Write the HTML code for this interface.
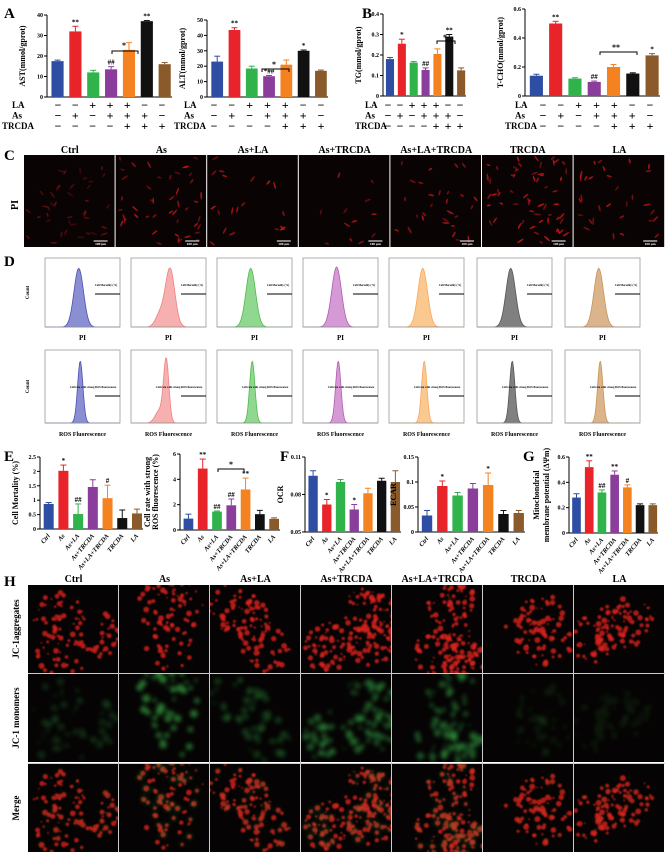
<!DOCTYPE html>
<html><head><meta charset="utf-8"><style>
html,body{margin:0;padding:0;background:#fff;width:670px;height:864px;overflow:hidden}
svg{display:block;font-family:"Liberation Serif",serif}
</style></head><body>
<svg id="s" width="670" height="864" viewBox="0 0 670 864" xmlns="http://www.w3.org/2000/svg">
<defs>
<filter id="bl" x="-20%" y="-20%" width="140%" height="140%"><feGaussianBlur stdDeviation="0.8"/></filter>
<filter id="bl2" x="-50%" y="-50%" width="200%" height="200%"><feGaussianBlur stdDeviation="2"/></filter>
</defs>
</svg>
<script>
const S=document.getElementById('s');let out='';
const C=['#2e4ea3','#e8242a','#2fb34a','#8a3d9b','#f58220','#111111','#8b5a2b'];
let seed=7;function r(){seed=(seed*16807)%2147483647;return seed/2147483647;}
function T(x,y,t,sz,o){o=o||'';out+=`<text x="${x}" y="${y}" font-size="${sz}" font-weight="bold" ${o}>${t}</text>`;}
function chart(ax,top,bot,right,max,min,vals,errs,ticks,ylab,stars,lx){
 const h=bot-top,n=7,step=(right-ax)/n,bw=step*0.68;
 out+=`<line x1="${ax}" y1="${top}" x2="${ax}" y2="${bot}" stroke="#000" stroke-width="1"/><line x1="${ax}" y1="${bot}" x2="${right}" y2="${bot}" stroke="#000"/>`;
 ticks.forEach(t=>{const y=bot-(t-min)/(max-min)*h;out+=`<line x1="${ax-3}" y1="${y}" x2="${ax}" y2="${y}" stroke="#000"/>`;T(ax-4,y+2,t,6,'text-anchor="end"');});
 vals.forEach((v,i)=>{const x=ax+step*(i+0.25),y=bot-(v-min)/(max-min)*h,e=errs[i]/(max-min)*h;
  out+=`<rect x="${x}" y="${y}" width="${bw}" height="${bot-y}" fill="${C[i]}"/>`;
  out+=`<line x1="${x+bw/2}" y1="${y}" x2="${x+bw/2}" y2="${y-e}" stroke="${C[i]}"/><line x1="${x+bw/2-3}" y1="${y-e}" x2="${x+bw/2+3}" y2="${y-e}" stroke="${C[i]}"/>`;
  if(stars&&stars[i])T(x+bw/2,y-e-2,stars[i],7,'text-anchor="middle"');});
 const cy=(top+bot)/2,X=lx||ax-22;T(X,cy,ylab,8,`text-anchor="middle" transform="rotate(-90 ${X} ${cy})"`);
}
function signs(lx,s0,s1,y0,rows){const step=(s1-s0)/6;
 const lab=['LA','As','TRCDA'];rows.forEach((row,j)=>{const y=y0+j*10.5;T(j==2?lx-10:lx,y,lab[j],9);
 row.split('').forEach((c,i)=>{const x=s0+step*i;T(x,y+1,c=='+'?'+':'−',12,'text-anchor="middle" font-weight="normal"');});});}
function xlabels(ax,right,y){const step=(right-ax)/7;['Ctrl','As','As+LA','As+TRCDA','As+LA+TRCDA','TRCDA','LA'].forEach((t,i)=>{const x=ax+step*(i+0.5)+3;T(x,y,t,6.5,`text-anchor="end" font-style="italic" transform="rotate(-50 ${x} ${y})"`);});}
const R3=['--+++--','-+-+++-','----+++'];
T(4,18,'A',15);T(362,18,'B',15);
chart(47,15,97,172,40,0,[17.5,32,12,13.5,23,37,16],[0.5,2.5,1,1.3,3.5,0.3,0.8],[0,10,20,30,40],'AST(mmol/gprot)',['','**','','##','','**','']);
signs(12,58,162,108,R3);
chart(207,20,97,328,50,0,[23,43.5,18.5,13.5,21,30,17],[3.5,1.5,1.5,0.5,3,0.5,0.5],[0,10,20,30,40,50],'ALT(mmol/gprot)',['','**','','*##','','*','']);
signs(184,214,321,108,R3);
chart(383,14,96,466,0.4,0,[0.18,0.255,0.163,0.127,0.205,0.29,0.125],[0.008,0.022,0.005,0.01,0.025,0.01,0.012],[0,0.1,0.2,0.3,0.4],'TG(mmol/gprot)',['','*','','##','','**','']);
signs(365,388,460,108,R3);
chart(525,9,96,660,0.6,0,[0.14,0.5,0.12,0.097,0.2,0.155,0.28],[0.01,0.015,0.006,0.006,0.017,0.005,0.012],[0,0.2,0.4,0.6],'T-CHO(mmol/gprot)',['','**','','##','','','*']);
signs(515,543,650,108,R3);
out+=`<path d="M112 54v-3h26v3M262 72v-3h27v3M437 44v-3h18v3M600 55v-3h37v3" fill="none" stroke="#000"/>`;
T(122,48,'*',8);T(272,67,'*',8);T(443,40,'*',8);T(612,50,'**',8);
// C
const G=['Ctrl','As','As+LA','As+TRCDA','As+LA+TRCDA','TRCDA','LA'];
T(4,160,'C',15);
const cx0=24,cw=91.6;
const dens=[40,45,20,12,28,60,30],bri=[0.45,0.8,0.9,0.8,0.8,0.9,0.8];
for(let i=0;i<7;i++){const x=cx0+i*cw;T(x+cw/2,153,G[i],10,'text-anchor="middle"');
 out+=`<rect x="${x}" y="155" width="${cw-1}" height="92" fill="#0a0303"/>`;
 for(let k=0;k<dens[i];k++){const px=x+4+r()*(cw-9),py=158+r()*86,a=r()*180;out+=`<ellipse cx="${px}" cy="${py}" rx="${2+r()*2}" ry="0.9" fill="#c8181c" opacity="${bri[i]*(0.5+r()*0.5)}" transform="rotate(${a} ${px} ${py})"/>`;}
 out+=`<line x1="${x+cw-22}" y1="241" x2="${x+cw-8}" y2="241" stroke="#fff"/>`;T(x+cw-15,245,'100 μm',3.5,'text-anchor="middle" fill="#fff" font-weight="normal"');}
T(18,205,'PI',10,'transform="rotate(-90 18 205)" text-anchor="middle"');
// D
T(4,266,'D',15);
const dl=[45,131,217,303,389,477,565],dw=75,dc=['#4b4fb0','#f08080','#4dbb4d','#b05cb0','#f8a860','#555','#c8945a'],df=['#8a8fd4','#f7b0b0','#90d890','#d59ad5','#fbc890','#808080','#dcb48c'];
function hist(x,top,bot,col,fill,pk,wd,ext){let d=`M${x} ${bot}`;for(let t=0;t<=80;t++){const px=x+t*dw/80;let v=Math.exp(-Math.pow((t/80-pk)/wd,2));if(ext)v+=ext*Math.exp(-Math.pow((t/80-0.38)/0.08,2));d+=`L${px} ${bot-v*(bot-top)*0.85}`;}d+=`L${x+dw} ${bot}Z`;out+=`<path d="${d}" fill="${fill}" stroke="${col}" stroke-width="0.8"/>`;}
for(let row=0;row<2;row++){const top=row?350:258,bot=row?423:327;
 for(let i=0;i<7;i++){const x=dl[i];
  hist(x,top,bot,dc[i],df[i],row?0.47:(i==1?0.52:0.45),row?0.05:0.09,(i==1?0.2:0)+(i==3&&row==0?0.05:0));
  out+=`<rect x="${x}" y="${top}" width="${dw}" height="${bot-top}" fill="none" stroke="#999" stroke-width="0.8"/>`;
  out+=`<line x1="${x+dw-25}" y1="${top+(row?46:36)}" x2="${x+dw}" y2="${top+(row?46:36)}" stroke="#000"/>`;
  T(x+dw-(row?27:14),top+(row?38:28),row?'Cell rate with strong ROS fluorescence':'Cell Mortality (%)',2.8,'text-anchor="middle"');
  T(x+dw/2,bot+13,row?'ROS Fluorescence':'PI',row?6:7,'text-anchor="middle"');}
 T(29,(top+bot)/2,'Count',5,`text-anchor="middle" transform="rotate(-90 29 ${(top+bot)/2})"`);}
// E F G
T(4,461,'E',15);T(280,461,'F',15);T(523,461,'G',15);
chart(40,457,529,143,2.5,0,[0.87,2.02,0.52,1.46,1.07,0.38,0.54],[0.05,0.2,0.35,0.25,0.45,0.28,0.15],[0,0.5,1.0,1.5,2.0,2.5],'Cell Mortality (%)',['','*','##','','#','','']);xlabels(40,143,536);
chart(180,454,530,280,6,0,[0.9,4.85,1.45,1.95,3.2,1.25,0.88],[0.35,0.75,0.05,0.5,0.9,0.3,0.08],[0,2,4,6],'ROS fluorescence (%)',['','**','##','##','**','','']);xlabels(180,280,537);
T(150,492,'Cell rate with strong',8,'text-anchor="middle" transform="rotate(-90 150 492)"');
out+=`<path d="M218 472v-3h26v3" fill="none" stroke="#000"/>`;T(229,467,'*',8);
chart(305,457,532,401,0.11,0.05,[0.095,0.072,0.09,0.068,0.081,0.091,0.09],[0.004,0.004,0.002,0.004,0.004,0.002,0.009],[0.05,0.08,0.11],'OCR',['','*','','*','','','']);xlabels(305,401,539);
chart(418,457,532,525,0.15,0,[0.033,0.092,0.073,0.087,0.094,0.036,0.038],[0.01,0.01,0.006,0.01,0.024,0.007,0.005],[0,0.05,0.1,0.15],'ECAR',['','*','','','*','','']);xlabels(418,525,539);
chart(569,457,533,658,0.6,0,[0.28,0.52,0.32,0.46,0.36,0.22,0.22],[0.03,0.05,0.02,0.03,0.02,0.01,0.01],[0,0.2,0.4,0.6],'membrane potential (ΔΨm)',['','**','##','**','#','',''],549);xlabels(569,658,540);
T(539,495,'Mitochondrial',8,'text-anchor="middle" transform="rotate(-90 539 495)"');
// H
T(4,586,'H',15);
const hx=28,hw=91,rows=[585,674,764],rh=89;
for(let i=0;i<7;i++){T(hx+i*hw+hw/2,582,G[i],10,'text-anchor="middle"');}
[['JC-1aggregates',629],['JC-1 monomers',718],['Merge',808]].forEach(a=>T(19,a[1],a[0],9,`text-anchor="middle" transform="rotate(-90 19 ${a[1]})"`));
const amt=[1,0.8,1,1.6,1.6,0.8,1];const gam=[0.25,0.8,0.35,0.6,0.6,0.12,0.12];
for(let i=0;i<7;i++){const x=hx+i*hw;
 const blobs=[];const nb=Math.round(110*amt[i]);
 const cl=[];for(let c=0;c<3;c++)cl.push([x+hw*(0.2+0.6*r()),(r()-0.5)*rh*0.6]);
 for(let k=0;k<nb;k++){const c=cl[k%3],a=r()*6.28,d=Math.sqrt(r());blobs.push([c[0]+Math.cos(a)*d*hw*0.28,c[1]+Math.sin(a)*d*rh*0.28,0.8+r()*2.2]);}
 for(let j=0;j<3;j++){const y=rows[j];
  out+=`<rect x="${x}" y="${y}" width="${hw-1}" height="${rh-1}" fill="#050303"/>`;
  out+=`<svg x="${x}" y="${y}" width="${hw-1}" height="${rh-1}" overflow="hidden"><g transform="translate(${-x} ${rh/2})">`;
  if(j!=1){out+=`<g filter="url(#bl)">`;blobs.forEach(b=>out+=`<circle cx="${b[0]}" cy="${b[1]}" r="${b[2]}" fill="#d8201c" opacity="0.8"/>`);out+='</g>';}
  if(j>=1){out+=`<g filter="url(#bl2)" opacity="${j==2?0.35:1}">`;blobs.forEach((b,k)=>{if(k%2==0)out+=`<circle cx="${b[0]}" cy="${b[1]}" r="${b[2]*1.4}" fill="#2f8f3a" opacity="${gam[i]}"/>`;});out+='</g>';}
  out+='</g></svg>';}}
out+=`<g stroke="#ccc" stroke-width="1">`;for(let i=1;i<7;i++)out+=`<line x1="${hx+i*hw-0.5}" y1="585" x2="${hx+i*hw-0.5}" y2="852"/>`;out+=`<line x1="28" y1="673.5" x2="665" y2="673.5"/><line x1="28" y1="763.5" x2="665" y2="763.5"/></g>`;
S.insertAdjacentHTML('beforeend',out);
</script>
</body></html>
